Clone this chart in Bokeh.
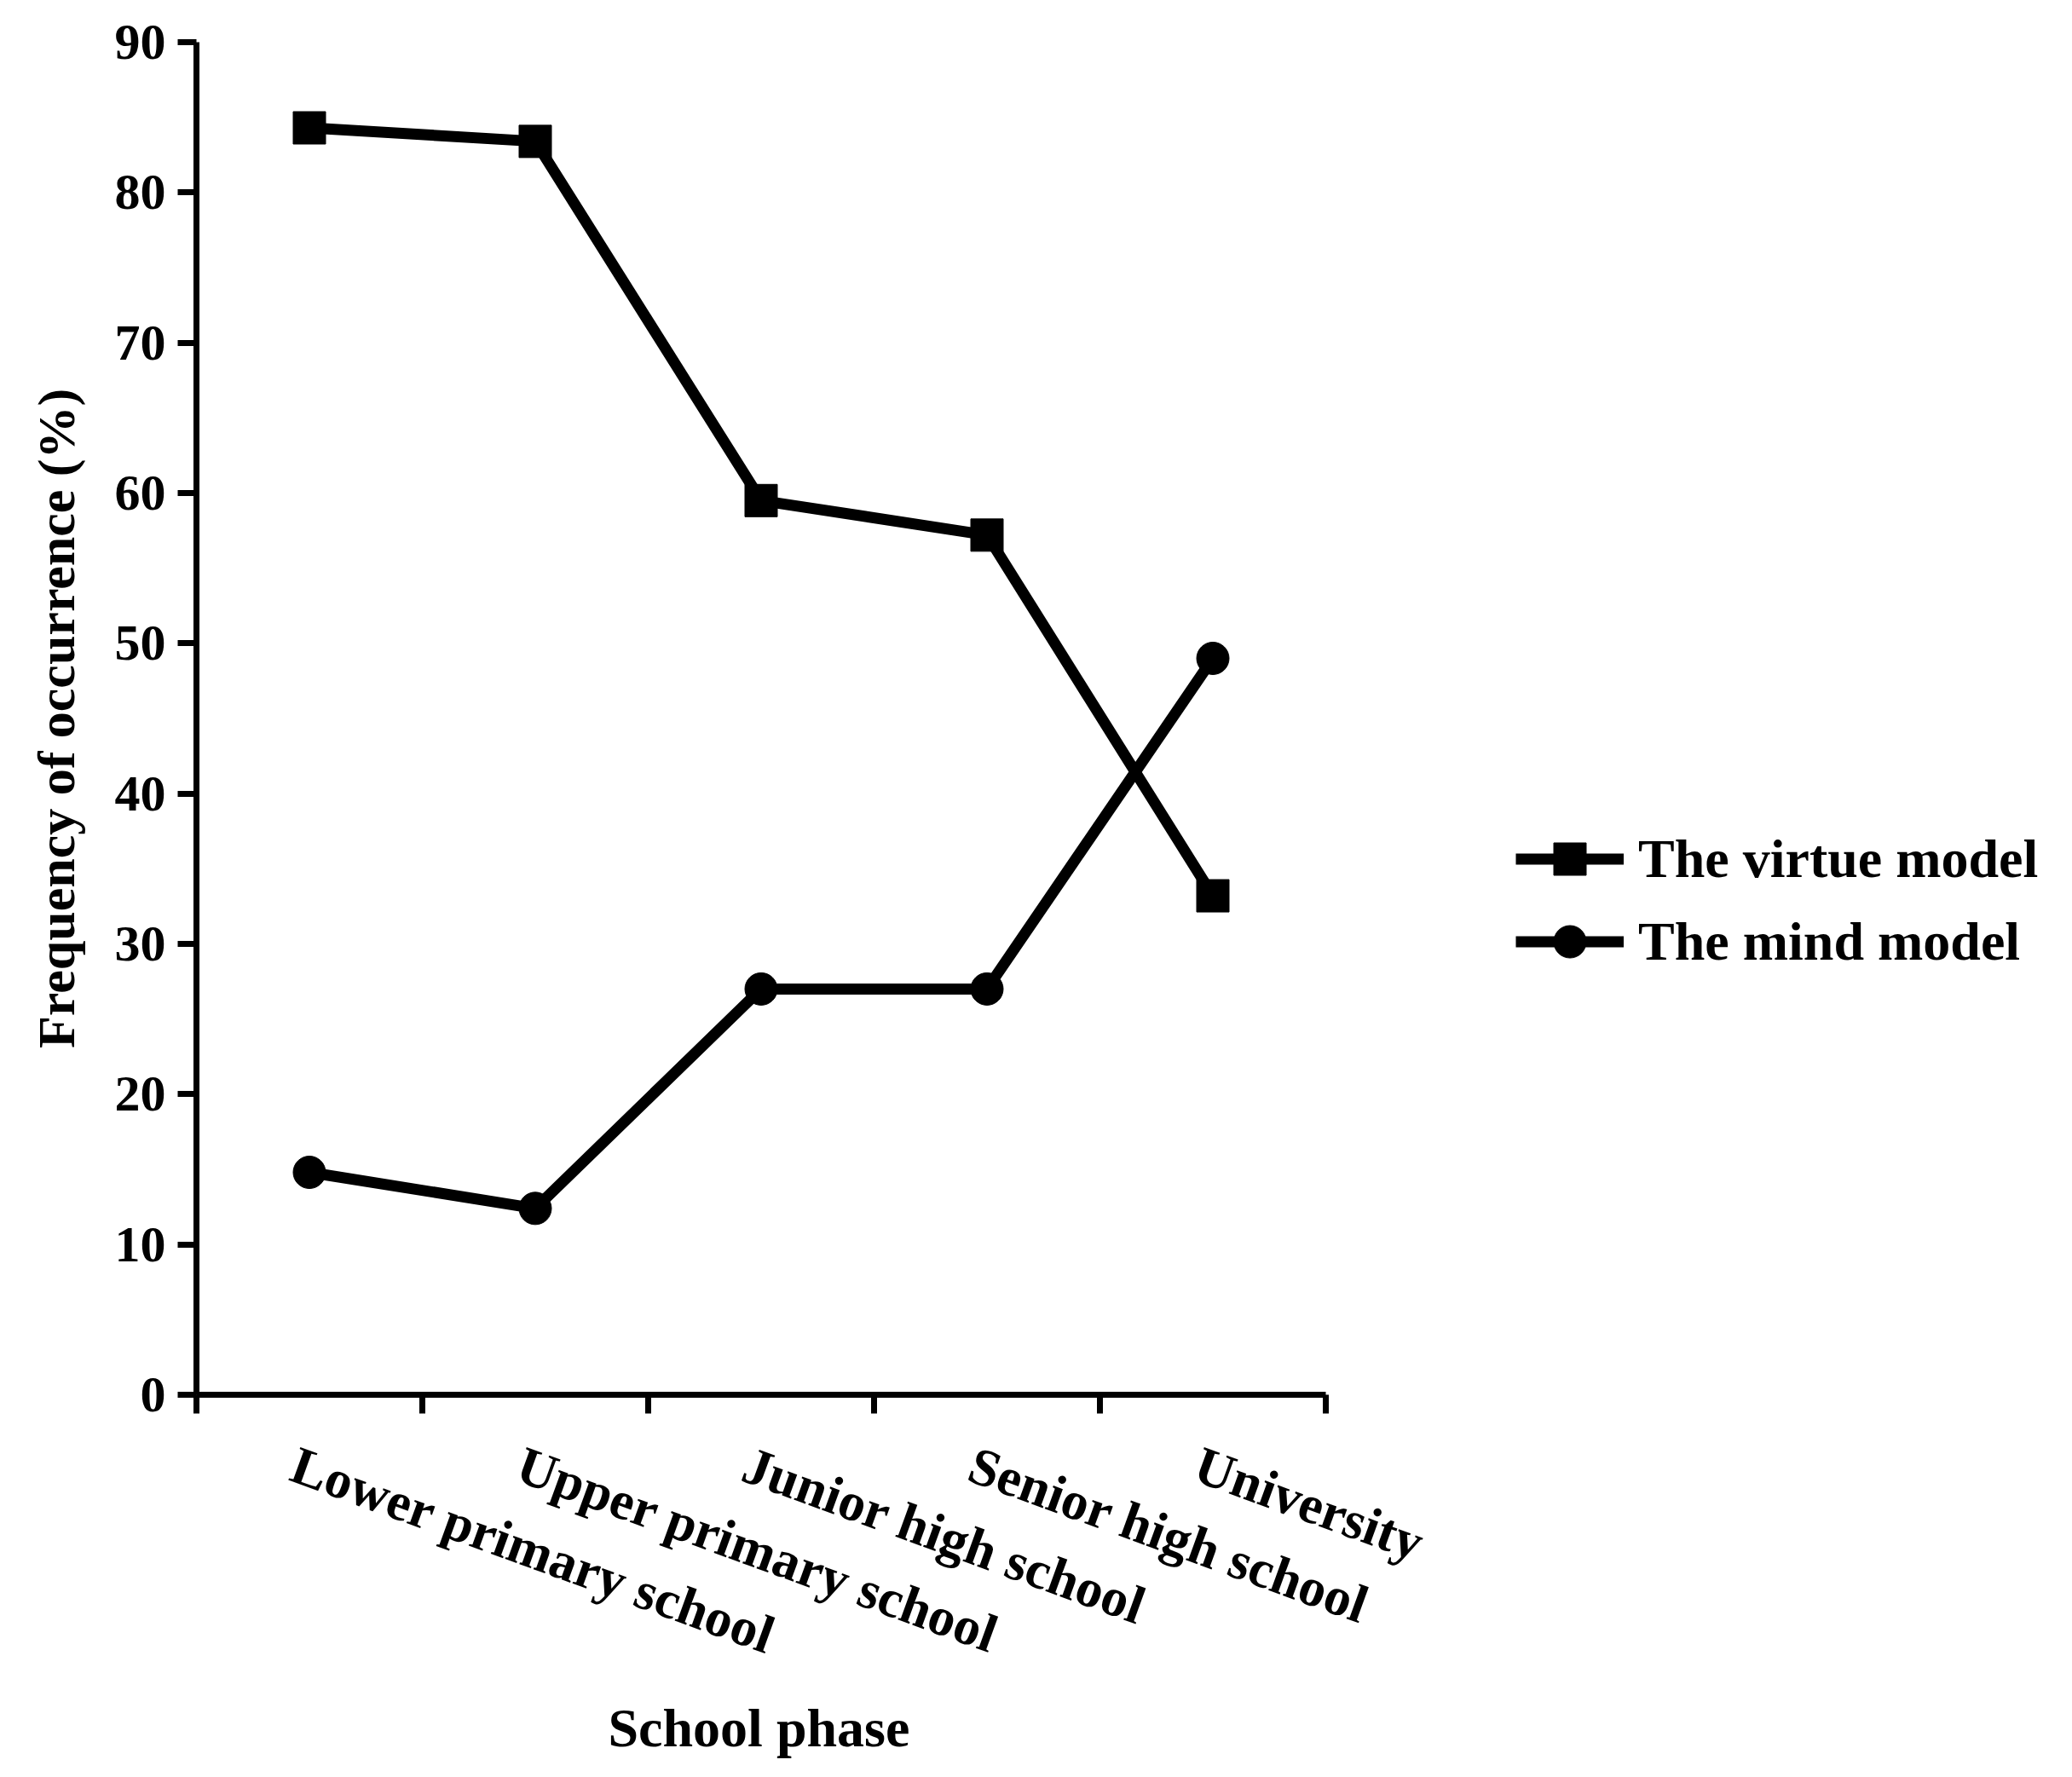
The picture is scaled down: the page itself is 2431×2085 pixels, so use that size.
import math
from bokeh.plotting import figure
from bokeh.models import (Range1d, FixedTicker, Legend, LegendItem, Title)
from bokeh.embed import file_html
from bokeh.resources import INLINE

categories = ["Lower primary school", "Upper primary school", "Junior high school",
              "Senior high school", "University"]
virtue_model = [84.3, 83.4, 59.5, 57.2, 33.2]
mind_model = [14.8, 12.4, 27.0, 27.0, 49.0]
y_ticks = [0, 10, 20, 30, 40, 50, 60, 70, 80, 90]

FONT = "Liberation Serif"

n = len(categories)
xs = [i + 0.5 for i in range(n)]
label_pos = [i + 0.43 for i in range(n)]

# layout: axis spans 0..n over 1325 px; frame extends further right to hold the legend
W, H = 2415, 2069
LEFT, RIGHT, TOP, BOTTOM = 230, 10, 49, 433
frame_w = W - LEFT - RIGHT
x_end = n * frame_w / 1325.0

p = figure(width=W, height=H, output_backend="svg", toolbar_location=None,
           x_range=Range1d(0, x_end), y_range=Range1d(0, 90),
           min_border_left=LEFT, min_border_top=TOP, min_border_right=RIGHT,
           min_border_bottom=BOTTOM)
p.outline_line_color = None
p.grid.visible = False
p.background_fill_color = "white"

r_v_line = p.line(xs, virtue_model, line_width=13, line_color="black", line_join="round")
r_v_pts = p.scatter(xs, virtue_model, marker="square", size=38, fill_color="black",
                    line_color="black")
r_m_line = p.line(xs, mind_model, line_width=13, line_color="black", line_join="round")
r_m_pts = p.scatter(xs, mind_model, marker="circle", size=38, fill_color="black",
                    line_color="black")

# y axis
ya = p.yaxis[0]
ya.ticker = FixedTicker(ticks=y_ticks, minor_ticks=[])
ya.axis_line_width = 7
ya.major_tick_line_width = 7
ya.major_tick_out = 22
ya.major_tick_in = 0
ya.minor_tick_line_color = None
ya.major_label_standoff = 14
ya.major_label_text_font = FONT
ya.major_label_text_font_style = "bold"
ya.major_label_text_font_size = "60px"
ya.major_label_text_color = "black"
ya.axis_label = "Frequency of occurrence (%)"
ya.axis_label_text_font = FONT
ya.axis_label_text_font_style = "bold"
ya.axis_label_text_font_size = "62px"
ya.axis_label_text_color = "black"
ya.axis_label_standoff = 32

# x axis: labels near category centres, ticks at boundaries
xa = p.xaxis[0]
xa.bounds = (0, n)
xa.ticker = FixedTicker(ticks=label_pos, minor_ticks=list(range(n + 1)))
xa.major_label_overrides = {x: c for x, c in zip(label_pos, categories)}
xa.major_tick_line_color = None
xa.major_tick_out = 0
xa.major_tick_in = 0
xa.minor_tick_line_color = "black"
xa.minor_tick_line_width = 7
xa.minor_tick_out = 22
xa.minor_tick_in = 0
xa.axis_line_width = 7
xa.major_label_orientation = -math.radians(20)
xa.major_label_standoff = 58
xa.major_label_text_font = FONT
xa.major_label_text_font_style = "bold"
xa.major_label_text_font_size = "63px"
xa.major_label_text_color = "black"

# x axis title, centred under the axis span (not the wider frame)
x_title = Title(text="School phase", align="left", offset=483, standoff=0,
                text_font=FONT, text_font_style="bold", text_font_size="64px",
                text_color="black")
p.add_layout(x_title, "below")

legend = Legend(items=[
    LegendItem(label="The virtue model", renderers=[r_v_line, r_v_pts]),
    LegendItem(label="The mind model", renderers=[r_m_line, r_m_pts]),
], location=(1548, 484))
legend.glyph_width = 127
legend.glyph_height = 95
legend.spacing = 2
legend.padding = 0
legend.margin = 0
legend.label_standoff = 17
legend.label_text_font = FONT
legend.label_text_font_style = "bold"
legend.label_text_font_size = "64px"
legend.label_text_color = "black"
legend.border_line_color = None
legend.background_fill_alpha = 0
p.add_layout(legend, "center")

open("out.html", "w").write(file_html(p, INLINE))
